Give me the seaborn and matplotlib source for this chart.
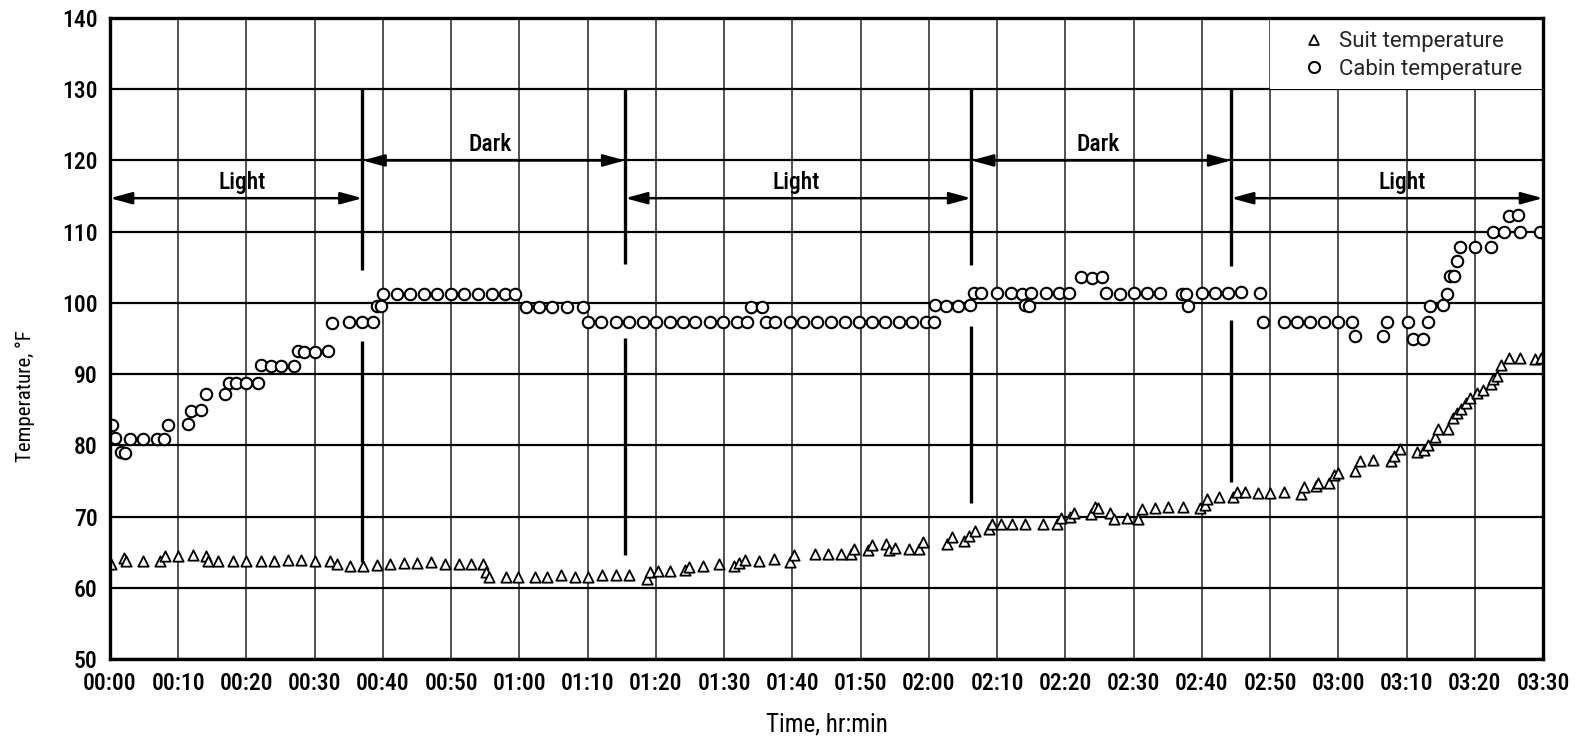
import numpy as np
import pandas as pd
import matplotlib
matplotlib.use('Agg')
import matplotlib.pyplot as plt
from matplotlib import font_manager
from matplotlib.patches import Rectangle
from matplotlib.lines import Line2D
import seaborn as sns

# ---------------- data ----------------
suit_time = [0.1, 2.0, 2.3, 4.9, 7.4, 8.0, 9.9, 12.1, 14.1, 14.4, 15.9, 18.0, 19.9, 22.1, 24.1,
             26.1, 28.0, 30.0, 32.2, 33.2, 35.1, 37.1, 39.1, 41.1, 43.1, 45.0, 47.0, 49.1, 51.1,
             52.9, 54.6, 55.1, 55.5, 58.0, 59.8, 62.3, 64.1, 66.1, 68.1, 70.1, 72.1, 74.1, 76.1,
             78.7, 79.2, 80.3, 82.0, 84.2, 84.8, 86.9, 89.2, 91.5, 92.2, 93.1, 95.1, 97.3, 99.6,
             100.2, 103.3, 105.2, 107.1, 108.6, 109.1, 111.1, 111.7, 113.7, 114.2, 115.1, 117.1,
             118.6, 119.2, 122.6, 123.4, 125.1, 125.9, 126.7, 128.8, 129.3, 130.5, 132.2, 134.1,
             136.8, 138.8, 139.3, 140.7, 141.2, 143.8, 144.3, 144.8, 146.6, 147.2, 149.0, 150.7,
             151.2, 153.2, 155.1, 157.3, 159.8, 160.5, 160.7, 162.5, 164.5, 165.1, 166.3, 168.3,
             170.0, 172.0, 174.6, 175.0, 176.8, 177.1, 178.7, 179.3, 180.0, 182.5, 183.2, 185.1,
             187.7, 188.2, 189.0, 191.5, 192.5, 193.2, 194.1, 194.6, 196.1, 196.8, 197.4, 198.0,
             198.7, 199.3, 200.3, 201.2, 202.4, 202.7, 203.2, 203.8, 205.0, 206.7, 208.8, 209.7]
suit_temp = [63.4, 64.2, 63.8, 63.8, 63.8, 64.5, 64.4, 64.6, 64.5, 63.7, 63.7, 63.7, 63.7, 63.8, 63.8,
             63.9, 63.9, 63.8, 63.8, 63.4, 63.1, 63.1, 63.2, 63.3, 63.5, 63.5, 63.6, 63.4, 63.3,
             63.3, 63.3, 62.2, 61.5, 61.5, 61.5, 61.5, 61.5, 61.8, 61.5, 61.5, 61.8, 61.8, 61.8,
             61.3, 62.2, 62.4, 62.4, 62.5, 62.9, 63.1, 63.3, 63.1, 63.5, 63.9, 63.7, 64.0, 63.6,
             64.6, 64.8, 64.8, 64.8, 64.7, 65.4, 65.3, 66.0, 66.2, 65.3, 65.6, 65.5,
             65.4, 66.4, 66.1, 67.1, 66.6, 67.2, 68.0, 68.2, 69.0, 69.0, 68.9, 69.0,
             69.0, 68.9, 69.8, 69.9, 70.5, 70.4, 71.3, 71.2, 70.5, 69.7, 69.8, 69.7,
             71.1, 71.2, 71.3, 71.3, 71.2, 71.6, 72.5, 72.7, 72.8, 73.4, 73.5, 73.3,
             73.3, 73.5, 73.2, 74.2, 74.3, 74.7, 74.7, 75.8, 76.1, 76.4, 77.8, 77.9,
             77.8, 78.5, 79.5, 79.1, 79.3, 80.1, 81.2, 82.3, 82.3, 83.9, 84.5, 85.1,
             86.0, 86.6, 87.4, 87.8, 88.6, 89.3, 89.8, 91.3, 92.2, 92.2, 92.1, 92.2]

cabin_time = [0.3, 0.8, 1.6, 2.2, 2.9, 4.8, 6.9, 7.9, 8.5, 11.5, 11.9, 13.3, 14.0, 16.9, 17.4,
              18.5, 20.0, 21.7, 22.1, 23.6, 25.1, 27.0, 27.5, 28.5, 30.0, 32.0, 32.5, 35.0, 37.0,
              38.6, 39.1, 39.7, 40.0, 42.0, 44.0, 46.0, 47.9, 49.9, 51.9, 53.9, 56.0, 57.9, 59.4,
              60.9, 62.8, 64.8, 66.9, 69.3, 70.1, 72.0, 74.1, 76.0, 78.1, 80.0, 82.0, 83.9, 85.7,
              87.9, 89.9, 91.9, 93.4, 94.0, 95.5, 96.1, 97.5, 99.6, 101.5, 103.6, 105.7, 107.7,
              109.7, 111.7, 113.6, 115.6, 117.6, 119.6, 120.8, 120.9, 122.5, 124.3, 126.1, 126.6,
              127.6, 130.0, 132.1, 133.6, 134.9, 134.1, 134.7, 137.1, 139.0, 140.5, 142.3, 143.9,
              145.4, 145.9, 148.0, 150.0, 152.0, 153.9, 157.1, 157.7, 158.0, 160.1, 162.0, 163.9,
              165.8, 168.5, 169.0, 172.0, 174.0, 175.9, 177.9, 179.9, 182.0, 182.5, 186.6, 187.2,
              190.2, 190.9, 192.4, 193.2, 193.5, 195.4, 195.9, 196.3, 196.9, 197.4, 197.9, 200.0,
              202.4, 202.7, 204.3, 205.0, 206.3, 206.7, 209.5]
cabin_temp = [82.8, 81.0, 79.1, 78.9, 80.9, 80.9, 80.9, 80.9, 82.9, 83.0, 84.8, 85.0, 87.2, 87.2, 88.8,
              88.8, 88.8, 88.8, 91.3, 91.2, 91.2, 91.2, 93.2, 93.1, 93.1, 93.2, 97.2, 97.3, 97.3,
              97.3, 99.6, 99.6, 101.2, 101.3, 101.3, 101.3, 101.3, 101.3, 101.3, 101.3, 101.3, 101.3, 101.2,
              99.4, 99.4, 99.4, 99.4, 99.4, 97.3, 97.3, 97.3, 97.3, 97.3, 97.3, 97.3, 97.3, 97.3,
              97.3, 97.3, 97.3, 97.3, 99.4, 99.4, 97.3, 97.3, 97.3, 97.3, 97.3, 97.3, 97.3,
              97.3, 97.3, 97.3, 97.3, 97.3, 97.3, 97.3, 99.7, 99.6, 99.6, 99.7, 101.4,
              101.4, 101.4, 101.4, 101.3, 101.4, 99.7, 99.5, 101.4, 101.4, 101.4, 103.7, 103.5,
              103.7, 101.4, 101.2, 101.4, 101.4, 101.4, 101.3, 101.3, 99.5, 101.4, 101.4, 101.4,
              101.5, 101.4, 97.3, 97.3, 97.3, 97.3, 97.3, 97.3, 97.3, 95.4, 95.4, 97.3,
              97.3, 95.0, 95.0, 97.3, 99.6, 99.7, 101.3, 103.8, 103.8, 105.9, 107.8, 107.8,
              107.8, 109.9, 109.9, 112.2, 112.3, 109.9, 109.9]

x_ticks = list(range(0, 211, 10))
x_tick_labels = ['00:00', '00:10', '00:20', '00:30', '00:40', '00:50', '01:00', '01:10', '01:20',
                 '01:30', '01:40', '01:50', '02:00', '02:10', '02:20', '02:30', '02:40', '02:50',
                 '03:00', '03:10', '03:20', '03:30']
y_ticks = list(range(50, 141, 10))

# light / dark transitions
event_time = [37.0, 75.5, 126.2, 164.3]
event_upper = [(130, 104.6), (130, 105.4), (130, 105.3), (130, 105.2)]
event_lower = [(94.7, 63.6), (95.1, 64.6), (96.8, 71.9), (97.6, 74.9)]
phase_names = ['Light', 'Dark', 'Light', 'Dark', 'Light']
phase_start = [0, 37.0, 75.5, 126.2, 164.3]
phase_end = [37.0, 75.5, 126.2, 164.3, 210]
phase_level = [114.7, 120.0, 114.7, 120.0, 114.7]
phase_label_x = [19.3, 55.7, 100.5, 144.8, 189.4]

# ---------------- style ----------------
sns.set_theme(style='white')
avail = {f.name for f in font_manager.fontManager.ttflist}
font = 'DejaVu Sans'
for cand in ['Liberation Sans Narrow', 'DejaVu Sans Condensed', 'Roboto Condensed',
             'Open Sans Condensed', 'Roboto', 'DejaVu Sans']:
    if cand in avail:
        font = cand
        break
wide_font = 'DejaVu Sans'
for cand in ['Roboto', 'Noto Sans', 'Open Sans', 'Liberation Sans', 'DejaVu Sans']:
    if cand in avail:
        wide_font = cand
        break
narrow = font in ('Liberation Sans Narrow', 'DejaVu Sans Condensed', 'Roboto Condensed',
                  'Open Sans Condensed')
plt.rcParams['font.family'] = [font, 'DejaVu Sans']
plt.rcParams['font.weight'] = 'medium'
fs = 17 if narrow else 16
lfs = 16

fig = plt.figure(figsize=(15.9, 7.46), dpi=100)
ax = fig.add_axes([110 / 1590, 1 - 659 / 746, 1433 / 1590, 641 / 746])

ax.set_xlim(0, 210)
ax.set_ylim(50, 140)
ax.set_xticks(x_ticks)
ax.set_xticklabels(x_tick_labels, fontsize=fs, fontweight='medium')
ax.set_yticks(y_ticks)
ax.set_yticklabels([str(v) for v in y_ticks], fontsize=fs, fontweight='medium')
ax.tick_params(axis='both', length=0, colors='black')
ax.tick_params(axis='x', pad=9.5)
ax.tick_params(axis='y', pad=9)

for x in x_ticks:
    ax.axvline(x, color='#222222', lw=1.1, zorder=1)
for y in y_ticks:
    ax.axhline(y, color='black', lw=1.6, zorder=1)
for sp in ax.spines.values():
    sp.set_color('black')
    sp.set_linewidth(2.4)
    sp.set_zorder(6)

# event lines
for t, (a, b), (c, d) in zip(event_time, event_upper, event_lower):
    ax.plot([t, t], [a, b], color='black', lw=2.4, zorder=3, solid_capstyle='butt')
    ax.plot([t, t], [c, d], color='black', lw=2.4, zorder=3, solid_capstyle='butt')

# phase arrows and labels
for name, s, e, lv, lx in zip(phase_names, phase_start, phase_end, phase_level, phase_label_x):
    ax.annotate('', xy=(e, lv), xytext=(s, lv),
                arrowprops=dict(arrowstyle='<|-|>,head_length=1.1,head_width=0.3',
                                color='black', lw=1.8, shrinkA=0, shrinkB=0),
                zorder=3)
    ax.text(lx, lv + 0.6, name, ha='center', va='bottom', fontsize=fs, fontweight='medium',
            color='black', zorder=4)

# data
suit_df = pd.DataFrame({'time': suit_time, 'temp': suit_temp})
cabin_df = pd.DataFrame({'time': cabin_time, 'temp': cabin_temp})
sns.scatterplot(data=cabin_df, x='time', y='temp', marker='o', s=68, color='white',
                edgecolor='black', linewidth=1.5, ax=ax, zorder=5, legend=False)
sns.scatterplot(data=suit_df, x='time', y='temp', marker='^', s=55, color='white',
                edgecolor='black', linewidth=1.3, ax=ax, zorder=5, legend=False)

# legend area
ax.add_patch(Rectangle((170, 130), 40, 10, facecolor='white', edgecolor='none', zorder=2))
handles = [Line2D([], [], marker='^', ls='none', mfc='white', mec='black', ms=7, mew=1.3),
           Line2D([], [], marker='o', ls='none', mfc='white', mec='black', ms=8, mew=1.5)]
leg = ax.legend(handles, ['Suit temperature', 'Cabin temperature'], loc='upper left',
                bbox_to_anchor=(0.83, 0.986), frameon=False,
                prop={'size': lfs, 'weight': 'normal', 'family': [wide_font, 'DejaVu Sans']},
                handlelength=0.95, handletextpad=0.65, labelspacing=0.28, borderaxespad=0,
                borderpad=0.2)

ax.set_xlabel('Time, hr:min', fontsize=18, fontweight='normal', color='black')
ax.set_ylabel('Temperature, \u00b0F', fontsize=15, fontweight='normal', color='black')
ax.xaxis.set_label_coords(0.50, -0.083)
ax.yaxis.set_label_coords(-0.052, 0.41)

fig.savefig('out.png', dpi=100, facecolor='white')
